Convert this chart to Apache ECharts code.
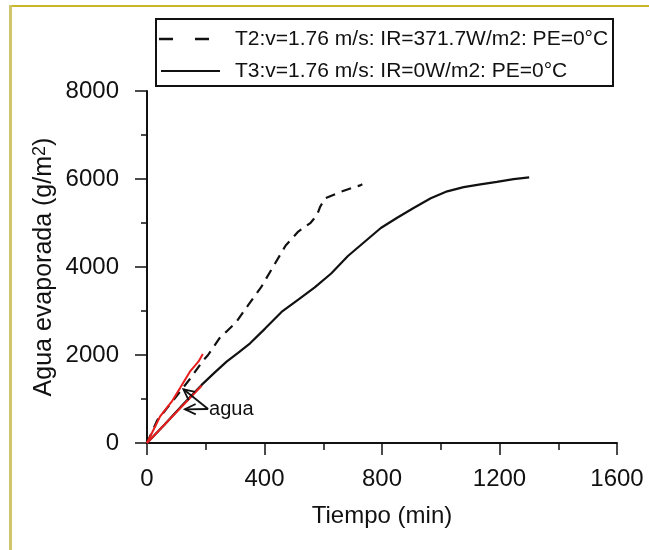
<!DOCTYPE html>
<html>
<head>
<meta charset="utf-8">
<script src="https://cdn.jsdelivr.net/npm/echarts@6/dist/echarts.min.js"></script>
<style>
html,body{margin:0;padding:0;background:#fff;}
#chart{width:649px;height:550px;}
</style>
</head>
<body>
<div id="chart"></div>
<script>
// ---- Data (time in min, evaporated water in g/m2) ----
var t2Time  = [0, 35, 92, 148, 190, 208, 247, 303, 345, 388, 430, 472, 515, 557, 579, 589, 606, 655, 698, 726, 733];
var t2Water = [0, 516, 993, 1470, 1867, 2000, 2383, 2741, 3138, 3535, 4012, 4489, 4806, 5005, 5182, 5362, 5561, 5696, 5799, 5855, 5879];

var t3Time  = [0, 60, 120, 186, 230, 271, 310, 351, 402, 458, 515, 571, 627, 684, 740, 796, 853, 909, 966, 1022, 1078, 1135, 1191, 1248, 1301];
var t3Water = [0, 420, 860, 1320, 1600, 1848, 2050, 2265, 2600, 2979, 3257, 3535, 3853, 4250, 4568, 4886, 5124, 5347, 5561, 5720, 5815, 5879, 5934, 5998, 6038];

// red "agua" reference lines
var agua1Time  = [0, 44, 84, 112, 146, 175, 190];
var agua1Water = [0, 598, 939, 1242, 1621, 1848, 2023];
var agua2Time  = [0, 186];
var agua2Water = [0, 1300];

// annotation: label anchor and arrow tips (data units)
var annotText = 'agua';
var annotFrom = [208, 773];
var annotTips = [[124, 1220], [129, 766]];

var xTicks = [0, 400, 800, 1200, 1600];
var yTicks = [0, 2000, 4000, 6000, 8000];

var legendNames = ['T2:v=1.76 m/s: IR=371.7W/m2: PE=0°C', 'T3:v=1.76 m/s: IR=0W/m2: PE=0°C'];

function zip(a, b) { return a.map(function (v, i) { return [v, b[i]]; }); }

var FONT = "'Liberation Sans', Arial, Helvetica, sans-serif";
var chart = echarts.init(document.getElementById('chart'), null, {renderer: 'canvas'});

var option = {
  backgroundColor: '#ffffff',
  animation: false,
  grid: {left: 147, right: 32, top: 91, bottom: 107, containLabel: false},
  xAxis: {
    type: 'value', min: xTicks[0], max: xTicks[xTicks.length - 1], interval: 400,
    name: 'Tiempo (min)', nameLocation: 'middle', nameGap: 61, nameMoveOverlap: false,
    nameTextStyle: {fontFamily: FONT, fontSize: 24, color: '#111'},
    axisLine: {show: true, lineStyle: {color: '#111', width: 2}},
    axisTick: {show: true, length: 12, lineStyle: {color: '#111', width: 1.5}},
    minorTick: {show: true, splitNumber: 2, length: 7, lineStyle: {color: '#111', width: 1.5}},
    axisLabel: {fontFamily: FONT, fontSize: 24, color: '#111', margin: 24,
      formatter: function (v) { return String(v); }},
    splitLine: {show: false}
  },
  yAxis: {
    type: 'value', min: yTicks[0], max: yTicks[yTicks.length - 1], interval: 2000,
    name: '{a|Agua evaporada (g/m}{b|2}{a|)}', nameLocation: 'middle', nameGap: 90, nameMoveOverlap: false,
    nameTextStyle: {fontFamily: FONT, fontSize: 25, color: '#111',
      rich: {a: {fontFamily: FONT, fontSize: 25, color: '#111'},
             b: {fontFamily: FONT, fontSize: 18, color: '#111', verticalAlign: 'top', padding: [0, 0, 8, 0]}}},
    axisLine: {show: true, lineStyle: {color: '#111', width: 2}},
    axisTick: {show: true, length: 12, lineStyle: {color: '#111', width: 1.5}},
    minorTick: {show: true, splitNumber: 2, length: 6, lineStyle: {color: '#111', width: 1.5}},
    axisLabel: {fontFamily: FONT, fontSize: 24, color: '#111', margin: 28,
      formatter: function (v) { return String(v); }},
    splitLine: {show: false}
  },
  series: [
    {
      name: legendNames[0], type: 'line', data: zip(t2Time, t2Water),
      showSymbol: false, smooth: false,
      lineStyle: {color: '#111', width: 2.2, type: [10, 7]}, z: 3
    },
    {
      name: legendNames[1], type: 'line', data: zip(t3Time, t3Water),
      showSymbol: false, smooth: false,
      lineStyle: {color: '#111', width: 2.2}, z: 3
    },
    {
      name: 'agua1', type: 'line', data: zip(agua1Time, agua1Water),
      showSymbol: false, lineStyle: {color: '#e61e1e', width: 2}, z: 4
    },
    {
      name: 'agua2', type: 'line', data: zip(agua2Time, agua2Water),
      showSymbol: false, lineStyle: {color: '#e61e1e', width: 2}, z: 4
    },
    {
      name: 'annot', type: 'custom', z: 5, silent: true,
      data: annotTips.map(function (t) { return [annotFrom[0], annotFrom[1], t[0], t[1]]; }),
      renderItem: function (params, api) {
        var p1 = api.coord([api.value(0), api.value(1)]);
        var p2 = api.coord([api.value(2), api.value(3)]);
        var ang = Math.atan2(p1[1] - p2[1], p1[0] - p2[0]);
        var L = 12, sp = 0.45;
        var h1 = [p2[0] + L * Math.cos(ang + sp), p2[1] + L * Math.sin(ang + sp)];
        var h2 = [p2[0] + L * Math.cos(ang - sp), p2[1] + L * Math.sin(ang - sp)];
        var children = [
          {type: 'line', shape: {x1: p1[0], y1: p1[1], x2: p2[0], y2: p2[1]}, style: {stroke: '#111', lineWidth: 1.8}},
          {type: 'polyline', shape: {points: [h1, p2, h2]}, style: {stroke: '#111', lineWidth: 1.8, fill: null}}
        ];
        if (params.dataIndex === 0) {
          children.push({type: 'text', style: {text: annotText, x: p1[0] + 1, y: p1[1],
            font: '20px ' + FONT, fill: '#111', textAlign: 'left', textVerticalAlign: 'middle'}});
        }
        return {type: 'group', children: children};
      }
    }
  ],
  graphic: [
    // outer frame lines
    {type: 'rect', shape: {x: 9, y: 5, width: 640, height: 2}, style: {fill: '#c9b52a'}, z: 10},
    {type: 'rect', shape: {x: 9, y: 5, width: 3, height: 545}, style: {fill: '#d1c46c'}, z: 10},
    // legend box
    {type: 'rect', shape: {x: 156, y: 19, width: 457, height: 67}, style: {fill: '#fff', stroke: '#111', lineWidth: 2}, z: 10},
    {type: 'line', shape: {x1: 159, y1: 39, x2: 173, y2: 39}, style: {stroke: '#111', lineWidth: 2.5}, z: 11},
    {type: 'line', shape: {x1: 195, y1: 39, x2: 209, y2: 39}, style: {stroke: '#111', lineWidth: 2.5}, z: 11},
    {type: 'line', shape: {x1: 161, y1: 71, x2: 220, y2: 71}, style: {stroke: '#111', lineWidth: 2}, z: 11},
    {type: 'text', style: {text: legendNames[0], x: 235, y: 39, font: '21px ' + FONT, fill: '#111', textVerticalAlign: 'middle'}, z: 11},
    {type: 'text', style: {text: legendNames[1], x: 235, y: 71, font: '21px ' + FONT, fill: '#111', textVerticalAlign: 'middle'}, z: 11}
  ]
};
chart.setOption(option);
</script>
</body>
</html>
